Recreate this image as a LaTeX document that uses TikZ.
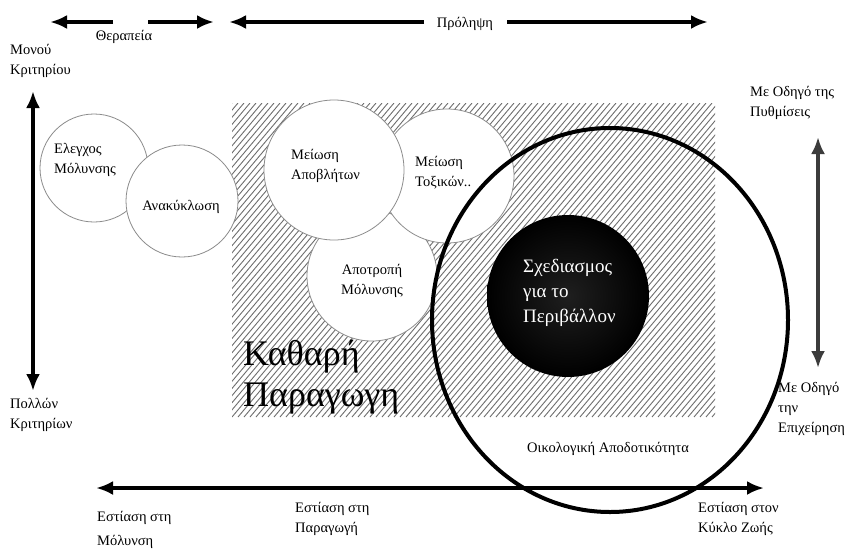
\documentclass[tikz,border=0pt]{standalone}
\usepackage{fontspec}
\setmainfont{Liberation Serif}
\usetikzlibrary{arrows.meta}
\definecolor{hatchgray}{HTML}{6E6E6E}
\definecolor{rimgray}{HTML}{8C8C8C}
\definecolor{axisgray}{HTML}{3C3C3C}
\newcommand\lblfont{\fontsize{14.5}{20}\selectfont}
\newcommand\bigfont{\fontsize{36}{41}\selectfont}
\newcommand\designfont{\fontsize{19}{25}\selectfont}
\tikzset{
  tip/.tip={Latex[length=17pt,width=14pt]},
  axis/.style={line width=4.2pt, -tip},
  axisboth/.style={line width=4.2pt, tip-tip},
  hatchline/.style={draw=hatchgray, line width=0.9pt},
  bubble/.style={circle, draw=rimgray, line width=0.8pt, fill=white, inner sep=0pt},
  lbl/.style={font=\lblfont, align=left, inner sep=0pt},
  clbl/.style={font=\lblfont, align=center, inner sep=0pt},
}
\begin{document}
\begin{tikzpicture}[x=1pt,y=-1pt]
  \useasboundingbox (0,0) rectangle (853,552);
  \fill[white] (0,0) rectangle (853,552);

  % hatched field of clean production
  \begin{scope}
    \clip (232,103) rectangle (715,417);
    \foreach \i in {0,...,125} {
      \draw[hatchline] ({-32+6*\i},417) -- ({232+6*\i},103);
    }
  \end{scope}

  % bubbles of the individual practices
  \node[bubble, minimum size=130pt] (prev)  at (372,276) {};
  \node[bubble, minimum size=134pt] (toxic) at (447,176) {};
  \node[bubble, minimum size=140pt] (waste) at (334,170) {};
  \node[bubble, minimum size=108pt] (ctrl)  at (94,168) {};
  \node[bubble, minimum size=112pt] (recyc) at (182,201) {};

  % design for the environment
  \shade[inner color=black!88, outer color=black] (568,296) circle[radius=81pt];
  \node[circle, minimum size=162pt, inner sep=0pt] (dfe) at (568,296) {};

  % eco-efficiency ring
  \draw[line width=4pt] (610,320) ellipse[x radius=178pt, y radius=192pt];
  \coordinate (ecoc) at (610,320);

  % axes
  \coordinate (thL) at (50,22);   \coordinate (thA) at (113,22);
  \coordinate (thB) at (148,22);  \coordinate (thR) at (214,22);
  \coordinate (prL) at (229,22);  \coordinate (prA) at (424,22);
  \coordinate (prB) at (507,22);  \coordinate (prR) at (708,22);
  \draw[axis] (thA) -- (thL);
  \draw[axis] (thB) -- (thR);
  \draw[axis] (prA) -- (prL);
  \draw[axis] (prB) -- (prR);

  \coordinate (critT) at (33,91);  \coordinate (critB) at (33,391);
  \draw[axisboth] (critB) -- (critT);

  \coordinate (drvT) at (818,137); \coordinate (drvB) at (818,368);
  \draw[axisboth, draw=axisgray, fill=axisgray, line width=3.4pt] (drvB) -- (drvT);

  \coordinate (focL) at (96,488);  \coordinate (focR) at (764,488);
  \draw[axisboth] (focL) -- (focR);

  % axis labels
  \node[clbl] (ther) at (124,37) {Θεραπεία};
  \node[clbl] (prol) at (465,24) {Πρόληψη};
  \node[lbl, anchor=north west] (mono) at (10,44) {Μονού\\Κριτηρίου};
  \node[lbl, anchor=north west] (poll) at (10,398) {Πολλών\\Κριτηρίων};
  \node[lbl, anchor=north west] (reg)  at (750,86) {Με Οδηγό της\\Πυθμίσεις};
  \node[lbl, anchor=north west] (firm) at (778,382) {Με Οδηγό\\την\\Επιχείρηση};
  \node[lbl, anchor=north west, font=\fontsize{14.5}{24}\selectfont] (fpol) at (97,511) {Εστίαση στη\\Μόλυνση};
  \node[lbl, anchor=north west] (fprod) at (295,502) {Εστίαση στη\\Παραγωγή};
  \node[lbl, anchor=north west] (flife) at (698,502) {Εστίαση στον\\Κύκλο Ζωής};

  % bubble labels
  \node[lbl, anchor=north west] (ctrlt)  at (54,143) {Ελεγχος\\Μόλυνσης};
  \node[clbl] (recyct) at (181,207) {Ανακύκλωση};
  \node[lbl, anchor=north west] (wastet) at (291,149) {Μείωση\\Αποβλήτων};
  \node[lbl, anchor=north west] (toxict) at (415,156) {Μείωση\\Τοξικών..};
  \node[clbl] (prevt) at (372,281) {Αποτροπή\\Μόλυνσης};

  \node[font=\designfont, text=white, align=left, inner sep=0pt, anchor=north west] (dfet) at (523,259) {Σχεδιασμος\\για το\\Περιβάλλον};
  \node[font=\bigfont, align=left, inner sep=0pt, anchor=north west] (clean) at (243,340) {Καθαρή\\Παραγωγη};
  \node[clbl] (ecot) at (608,449) {Οικολογική Αποδοτικότητα};
\end{tikzpicture}
\end{document}
